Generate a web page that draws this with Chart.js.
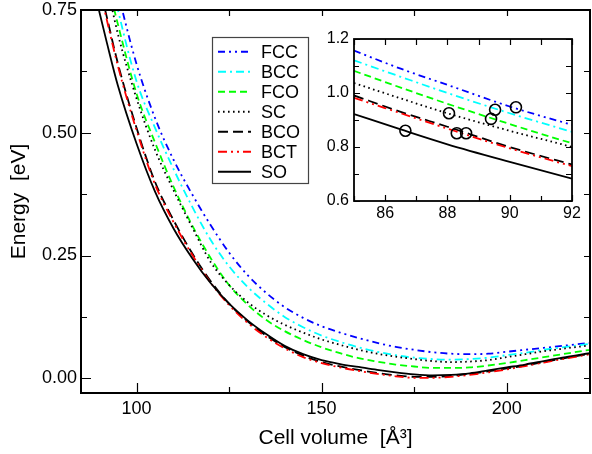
<!DOCTYPE html>
<html>
<head>
<meta charset="utf-8">
<script src="https://cdn.jsdelivr.net/npm/chart.js@4.4.1/dist/chart.umd.min.js"></script>
<style>
html,body{margin:0;padding:0;background:#fff;}
#wrap{position:relative;width:592px;height:454px;overflow:hidden;}
#main{position:absolute;left:0;top:0;}
#inset{position:absolute;left:300px;top:25px;}
</style>
</head>
<body>
<div id="wrap">
<canvas id="main" width="592" height="454"></canvas>
<canvas id="inset" width="285" height="210"></canvas>
</div>
<script>
// ---- data ----
const volume = [85, 86.5, 88, 90, 92, 95, 100, 105, 110, 115, 120, 125, 130, 135, 140, 145, 150, 155, 160, 165, 170, 175, 180, 185, 190, 195, 200, 205, 210, 215, 222.5];
const energyFCC = [1.157, 1.09, 1.03, 0.95, 0.882, 0.785, 0.64, 0.53, 0.445, 0.375, 0.312, 0.256, 0.21, 0.174, 0.145, 0.123, 0.106, 0.093, 0.082, 0.072, 0.064, 0.058, 0.053, 0.050, 0.049, 0.050, 0.054, 0.058, 0.062, 0.066, 0.072];
const energyBCC = [1.121, 1.06, 1.0, 0.925, 0.856, 0.75, 0.605, 0.51, 0.426, 0.35, 0.282, 0.228, 0.186, 0.153, 0.125, 0.104, 0.087, 0.074, 0.063, 0.054, 0.047, 0.042, 0.039, 0.038, 0.039, 0.042, 0.047, 0.052, 0.058, 0.063, 0.070];
const energyFCO = [1.082, 1.02, 0.96, 0.885, 0.814, 0.72, 0.58, 0.48, 0.39, 0.312, 0.245, 0.19, 0.150, 0.119, 0.096, 0.078, 0.063, 0.051, 0.041, 0.034, 0.028, 0.024, 0.021, 0.021, 0.022, 0.026, 0.031, 0.037, 0.043, 0.049, 0.058];
const energySC  = [1.037, 0.98, 0.925, 0.86, 0.80, 0.70, 0.57, 0.465, 0.383, 0.308, 0.237, 0.19, 0.155, 0.129, 0.109, 0.093, 0.079, 0.068, 0.058, 0.050, 0.044, 0.039, 0.035, 0.033, 0.034, 0.037, 0.043, 0.049, 0.055, 0.060, 0.067];
const energyBCO = [0.991, 0.93, 0.875, 0.80, 0.735, 0.64, 0.51, 0.40, 0.322, 0.255, 0.198, 0.152, 0.116, 0.087, 0.064, 0.046, 0.033, 0.024, 0.017, 0.011, 0.006, 0.003, 0.003, 0.005, 0.009, 0.014, 0.020, 0.026, 0.033, 0.040, 0.050];
const energyBCT = [0.982, 0.925, 0.868, 0.795, 0.729, 0.635, 0.505, 0.395, 0.318, 0.252, 0.195, 0.149, 0.113, 0.084, 0.061, 0.043, 0.031, 0.022, 0.015, 0.009, 0.004, 0.001, 0.001, 0.003, 0.007, 0.012, 0.018, 0.025, 0.032, 0.039, 0.049];
const energySO  = [0.922, 0.865, 0.81, 0.745, 0.683, 0.595, 0.478, 0.38, 0.305, 0.245, 0.194, 0.152, 0.118, 0.090, 0.066, 0.049, 0.037, 0.029, 0.023, 0.017, 0.012, 0.008, 0.006, 0.007, 0.010, 0.016, 0.022, 0.028, 0.035, 0.042, 0.051];
const seriesNames = ['FCC', 'BCC', 'FCO', 'SC', 'BCO', 'BCT', 'SO'];
const circleVolume = [86.65, 88.05, 88.3, 88.6, 89.4, 89.53, 90.2];
const circleEnergy = [0.860, 0.925, 0.851, 0.851, 0.904, 0.938, 0.947];
const mainXTicks = [100, 150, 200];
const mainXMinor = [125, 175];
const mainYTicks = [0, 0.25, 0.5, 0.75];
const mainYMinor = [0.125, 0.375, 0.625];
const insetXTicks = [86, 88, 90, 92];
const insetXMinor = [85, 87, 89, 91];
const insetYTicks = [0.6, 0.8, 1.0, 1.2];
const insetYMinor = [0.7, 0.9, 1.1];

// ---- styles ----
const FONT = '"Liberation Sans", Arial, Helvetica, sans-serif';
Chart.defaults.font.family = FONT;
Chart.defaults.color = '#000';
const styles = [
  {color: '#0000ff', dash: [7, 4, 2, 4, 2, 4]},
  {color: '#00ffff', dash: [8, 4, 2, 4]},
  {color: '#00ff00', dash: [7, 4]},
  {color: '#000000', dash: [1.6, 3.4]},
  {color: '#000000', dash: [10, 5]},
  {color: '#ff0000', dash: [9, 4, 2, 4, 2, 4]},
  {color: '#000000', dash: []}
];
const allEnergies = [energyFCC, energyBCC, energyFCO, energySC, energyBCO, energyBCT, energySO];

function makeDatasets() {
  return allEnergies.map((arr, i) => ({
    label: seriesNames[i],
    data: volume.map((v, k) => ({x: v, y: arr[k]})),
    borderColor: styles[i].color,
    borderDash: styles[i].dash,
    borderWidth: 1.8,
    pointRadius: 0,
    fill: false,
    cubicInterpolationMode: 'monotone',
    order: 10 - i
  }));
}

function framePlugin(o) {
  return {
    id: 'frame',
    afterDatasetsDraw(chart) {
      const {ctx, chartArea: a, scales: {x, y}} = chart;
      ctx.save();
      ctx.strokeStyle = '#000';
      ctx.lineWidth = 1.2;
      ctx.beginPath();
      o.xMajor.forEach(v => { const p = Math.round(x.getPixelForValue(v)) + 0.5;
        ctx.moveTo(p, a.bottom); ctx.lineTo(p, a.bottom - o.major);
        ctx.moveTo(p, a.top); ctx.lineTo(p, a.top + o.opp); });
      o.xMinor.forEach(v => { const p = Math.round(x.getPixelForValue(v)) + 0.5;
        ctx.moveTo(p, a.bottom); ctx.lineTo(p, a.bottom - o.minor);
        ctx.moveTo(p, a.top); ctx.lineTo(p, a.top + o.opp); });
      o.yMajor.forEach(v => { const p = Math.round(y.getPixelForValue(v)) + 0.5;
        ctx.moveTo(a.left, p); ctx.lineTo(a.left + o.major, p);
        ctx.moveTo(a.right, p); ctx.lineTo(a.right - o.opp, p); });
      o.yMinor.forEach(v => { const p = Math.round(y.getPixelForValue(v)) + 0.5;
        ctx.moveTo(a.left, p); ctx.lineTo(a.left + o.minor, p);
        ctx.moveTo(a.right, p); ctx.lineTo(a.right - o.opp, p); });
      ctx.stroke();
      ctx.lineWidth = o.frame;
      ctx.strokeRect(a.left, a.top, a.right - a.left, a.bottom - a.top);
      ctx.restore();
    }
  };
}

const legendPlugin = {
  id: 'legendBox',
  afterDraw(chart) {
    const ctx = chart.ctx;
    ctx.save();
    ctx.fillStyle = '#fff';
    ctx.fillRect(212, 37, 97, 147);
    ctx.strokeStyle = '#444';
    ctx.lineWidth = 1.2;
    ctx.strokeRect(212.5, 37.5, 96, 146);
    chart.data.datasets.forEach((ds, i) => {
      const yy = 51.7 + i * 20;
      ctx.strokeStyle = ds.borderColor;
      ctx.lineWidth = 2;
      ctx.setLineDash(ds.borderDash || []);
      ctx.beginPath();
      ctx.moveTo(218, yy);
      ctx.lineTo(251, yy);
      ctx.stroke();
      ctx.setLineDash([]);
      ctx.fillStyle = '#000';
      ctx.font = '18px ' + FONT;
      ctx.textBaseline = 'middle';
      ctx.textAlign = 'left';
      ctx.fillText(ds.label, 261, yy + 1);
    });
    ctx.restore();
  }
};

function fixX(h) { return s => { s.height = h; s.paddingLeft = 0; s.paddingRight = 0; }; }
function fixY(w) { return s => { s.width = w; s.paddingTop = 0; s.paddingBottom = 0; }; }

new Chart(document.getElementById('main'), {
  type: 'line',
  data: {datasets: makeDatasets()},
  options: {
    responsive: false, animation: false, devicePixelRatio: 1,
    parsing: false, normalized: true,
    layout: {padding: {left: 0, top: 10, right: 2, bottom: 3}},
    plugins: {legend: {display: false}, tooltip: {enabled: false}},
    scales: {
      x: {
        type: 'linear', min: 85, max: 222.5,
        grid: {display: false, drawTicks: false}, border: {display: false},
        afterBuildTicks: s => { s.ticks = mainXTicks.map(v => ({value: v})); },
        ticks: {padding: 5, font: {size: 18}, color: '#000', maxRotation: 0, callback: v => String(v)},
        title: {display: true, text: 'Cell volume  [Å³]', font: {size: 21}, color: '#000', padding: {top: 0, bottom: 0}},
        afterFit: fixX(58)
      },
      y: {
        type: 'linear', min: -0.03, max: 0.75,
        grid: {display: false, drawTicks: false}, border: {display: false},
        afterBuildTicks: s => { s.ticks = mainYTicks.map(v => ({value: v})); },
        ticks: {padding: 4, font: {size: 18}, color: '#000', callback: v => Number(v).toFixed(2)},
        title: {display: true, text: 'Energy  [eV]', font: {size: 21}, color: '#000', padding: {top: 7, bottom: 0}},
        afterFit: fixY(81)
      }
    }
  },
  plugins: [framePlugin({xMajor: mainXTicks, xMinor: mainXMinor, yMajor: mainYTicks, yMinor: mainYMinor, major: 10, minor: 6, opp: 6, frame: 2}), legendPlugin]
});

const insetSets = makeDatasets();
insetSets.push({
  label: 'points',
  data: circleVolume.map((v, k) => ({x: v, y: circleEnergy[k]})),
  showLine: false,
  pointStyle: 'circle',
  pointRadius: 5.5,
  pointBorderWidth: 1.6,
  pointBorderColor: '#000',
  pointBackgroundColor: 'rgba(0,0,0,0)',
  borderColor: '#000',
  backgroundColor: 'rgba(0,0,0,0)',
  order: -1
});

new Chart(document.getElementById('inset'), {
  type: 'line',
  data: {datasets: insetSets},
  options: {
    responsive: false, animation: false, devicePixelRatio: 1,
    parsing: false, normalized: true,
    layout: {padding: {left: 0, top: 14, right: 13, bottom: 0}},
    plugins: {legend: {display: false}, tooltip: {enabled: false}},
    scales: {
      x: {
        type: 'linear', min: 85, max: 92,
        grid: {display: false, drawTicks: false}, border: {display: false},
        afterBuildTicks: s => { s.ticks = insetXTicks.map(v => ({value: v})); },
        ticks: {padding: 3, font: {size: 16}, color: '#000', maxRotation: 0, callback: v => String(v)},
        afterFit: fixX(34)
      },
      y: {
        type: 'linear', min: 0.6, max: 1.2,
        grid: {display: false, drawTicks: false}, border: {display: false},
        afterBuildTicks: s => { s.ticks = insetYTicks.map(v => ({value: v})); },
        ticks: {padding: 5, font: {size: 16}, color: '#000', callback: v => Number(v).toFixed(1)},
        afterFit: fixY(54)
      }
    }
  },
  plugins: [framePlugin({xMajor: insetXTicks, xMinor: insetXMinor, yMajor: insetYTicks, yMinor: insetYMinor, major: 6, minor: 5, opp: 6, frame: 1.8})]
});
</script>
</body>
</html>
